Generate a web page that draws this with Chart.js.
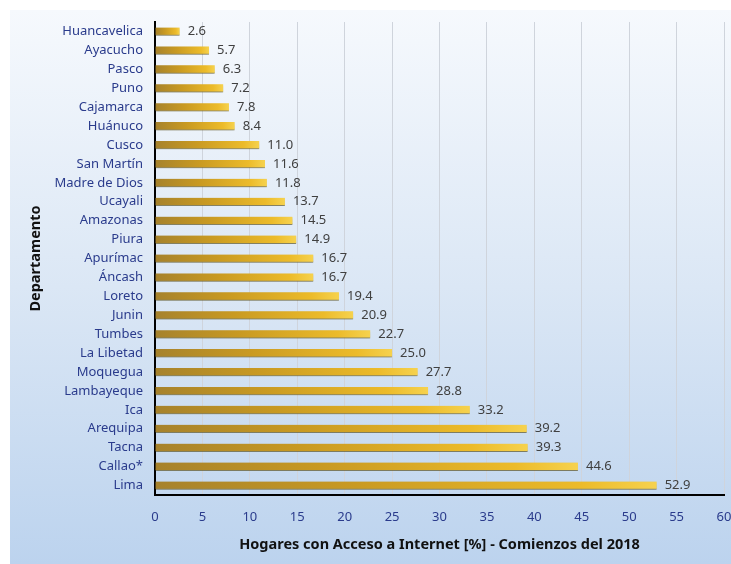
<!DOCTYPE html>
<html>
<head>
<meta charset="utf-8">
<script src="https://cdn.jsdelivr.net/npm/chart.js@4"></script>
<style>
  html, body { margin: 0; padding: 0; background: #fff; }
  #wrap { width: 731px; height: 564px; }
</style>
</head>
<body>
<div id="wrap"><canvas id="chart"></canvas></div>
<script>
const departamentos = ['Huancavelica', 'Ayacucho', 'Pasco', 'Puno', 'Cajamarca', 'Huánuco', 'Cusco',
    'San Martín', 'Madre de Dios', 'Ucayali', 'Amazonas', 'Piura', 'Apurímac', 'Áncash', 'Loreto',
    'Junin', 'Tumbes', 'La Libetad', 'Moquegua', 'Lambayeque', 'Ica', 'Arequipa', 'Tacna', 'Callao*', 'Lima'];
const acceso = [2.6, 5.7, 6.3, 7.2, 7.8, 8.4, 11.0, 11.6, 11.8, 13.7, 14.5, 14.9, 16.7, 16.7, 19.4,
    20.9, 22.7, 25.0, 27.7, 28.8, 33.2, 39.2, 39.3, 44.6, 52.9];
const xMax = 60;
const xStep = 5;
const tituloX = 'Hogares con Acceso a Internet [%] - Comienzos del 2018';
const tituloY = 'Departamento';

const fontFamily = "'Noto Sans', 'Open Sans', sans-serif";
const tickColor = '#2a3b8c';

// light blue backdrop, offset a bit from the top-left like the original
const backdrop = {
    id: 'backdrop',
    beforeDraw(chart) {
        const ctx = chart.ctx;
        const g = ctx.createLinearGradient(0, 10, 0, chart.height);
        g.addColorStop(0, '#f6f9fd');
        g.addColorStop(0.5, '#dbe7f5');
        g.addColorStop(1, '#bcd3ee');
        ctx.save();
        ctx.fillStyle = g;
        ctx.fillRect(10, 10, chart.width - 10, chart.height - 10);
        ctx.restore();
    }
};

// soft shadow under the bars
const barShadow = {
    id: 'barShadow',
    beforeDatasetsDraw(chart) {
        const ctx = chart.ctx;
        ctx.save();
        ctx.shadowColor = 'rgba(60, 70, 40, 0.35)';
        ctx.shadowBlur = 3;
        ctx.shadowOffsetY = 2;
    },
    afterDatasetsDraw(chart) {
        chart.ctx.restore();
    }
};

const valueLabels = {
    id: 'valueLabels',
    afterDatasetsDraw(chart) {
        const ctx = chart.ctx;
        const meta = chart.getDatasetMeta(0);
        ctx.save();
        ctx.font = '13px ' + fontFamily;
        ctx.fillStyle = '#404040';
        ctx.textAlign = 'left';
        ctx.textBaseline = 'middle';
        meta.data.forEach((bar, i) => {
            ctx.fillText(acceso[i].toFixed(1), bar.x + 8, bar.y);
        });
        ctx.restore();
    }
};

function barGradient(context) {
    const chart = context.chart;
    const scale = chart.scales.x;
    if (!scale || context.parsed === undefined) return '#d9a92a';
    const x0 = scale.getPixelForValue(0);
    const x1 = scale.getPixelForValue(context.parsed.x);
    if (!isFinite(x0) || !isFinite(x1) || x1 - x0 < 1) return '#d9a92a';
    const g = chart.ctx.createLinearGradient(x0, 0, x1, 0);
    g.addColorStop(0, '#a6822c');
    g.addColorStop(0.4, '#c99a22');
    g.addColorStop(0.85, '#ecbb2a');
    g.addColorStop(1, '#f6d24e');
    return g;
}

new Chart(document.getElementById('chart'), {
    type: 'bar',
    data: {
        labels: departamentos,
        datasets: [{
            data: acceso,
            backgroundColor: barGradient,
            borderColor: 'rgba(120, 95, 30, 0.55)',
            borderWidth: { top: 0, bottom: 1, left: 0, right: 0 },
            barThickness: 8
        }]
    },
    options: {
        indexAxis: 'y',
        responsive: true,
        maintainAspectRatio: false,
        animation: false,
        layout: { padding: { top: 22, right: 7, left: 0, bottom: 0 } },
        plugins: {
            legend: { display: false },
            tooltip: { enabled: false }
        },
        scales: {
            x: {
                min: 0,
                max: xMax,
                ticks: {
                    stepSize: xStep,
                    color: tickColor,
                    padding: 14,
                    font: { family: fontFamily, size: 13 }
                },
                grid: {
                    drawTicks: false,
                    color: ctx => ctx.tick && ctx.tick.value === 0 ? 'rgba(0,0,0,0)' : '#cfd4dc',
                    lineWidth: 1
                },
                border: { display: true, color: '#000', width: 2 },
                title: {
                    display: true,
                    text: tituloX,
                    color: '#111',
                    font: { family: fontFamily, size: 14.5, weight: 'bold' },
                    padding: { top: 10, bottom: 10 }
                },
                afterFit(scale) {
                    scale.height = 69;
                    scale.paddingRight = 0;
                }
            },
            y: {
                ticks: {
                    color: tickColor,
                    padding: 12,
                    autoSkip: false,
                    font: { family: fontFamily, size: 13 }
                },
                grid: { display: false, drawTicks: false },
                border: { display: true, color: '#000', width: 2 },
                title: {
                    display: true,
                    text: tituloY,
                    color: '#111',
                    font: { family: fontFamily, size: 14.5, weight: 'bold' },
                    padding: { top: 27, bottom: 0 }
                },
                afterFit(scale) { scale.width = 155; }
            }
        }
    },
    plugins: [backdrop, barShadow, valueLabels]
});
</script>
</body>
</html>
